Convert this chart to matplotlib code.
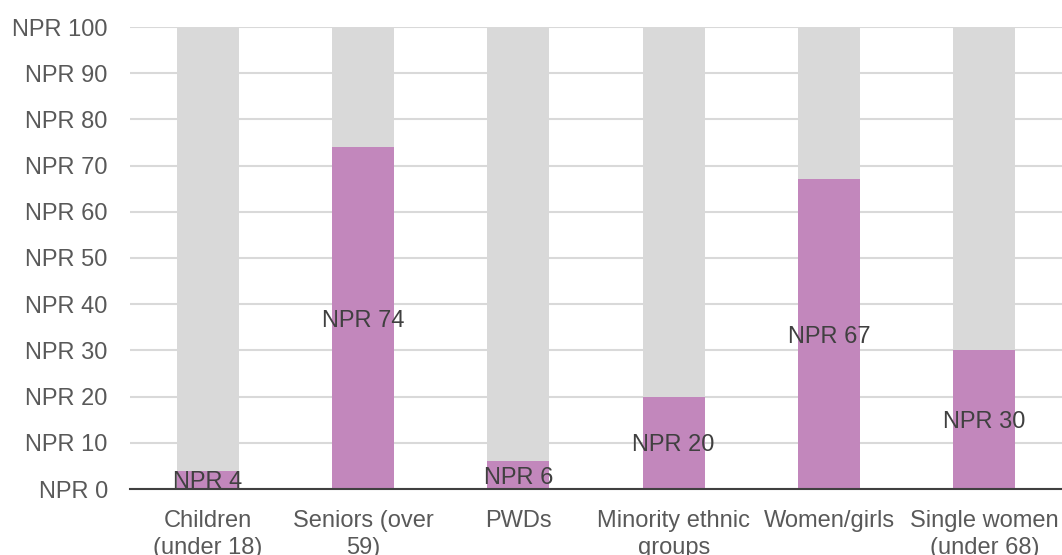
import numpy as np
import matplotlib.pyplot as plt

# Data
categories = ["Children\n(under 18)", "Seniors (over\n59)", "PWDs",
              "Minority ethnic\ngroups", "Women/girls", "Single women\n(under 68)"]
values = [4, 74, 6, 20, 67, 30]
total = 100
yticks = list(range(0, 101, 10))

plt.rcParams['font.family'] = ['Liberation Sans', 'DejaVu Sans']

fig = plt.figure(figsize=(10.62, 5.55), dpi=100)
ax = fig.add_axes([130 / 1062, 66 / 555, 932 / 1062, 462 / 555])

x = np.arange(len(categories))
rest = [total - v for v in values]

ax.bar(x, values, width=0.4, color="#c287bc", zorder=2)
ax.bar(x, rest, bottom=values, width=0.4, color="#d9d9d9", zorder=2)

# Etiquettes au centre des barres violettes
for xi, v in zip(x, values):
    ax.text(xi, v / 2, f"NPR {v}", ha='center', va='center_baseline',
            fontsize=17, color="#404040", zorder=3)

ax.set_xlim(-0.5, len(categories) - 0.5)
ax.set_ylim(0, 100)
ax.set_yticks(yticks)
ax.set_yticklabels([f"NPR {t}" for t in yticks])
ax.set_xticks(x)
ax.set_xticklabels(categories, linespacing=1.3)

ax.tick_params(axis='y', length=0, pad=16, labelsize=17, labelcolor="#595959")
ax.tick_params(axis='x', length=0, pad=15, labelsize=17, labelcolor="#595959")

ax.grid(axis='y', color="#d9d9d9", linewidth=1.5, zorder=0)
ax.set_axisbelow(True)
for s in ['top', 'right', 'left']:
    ax.spines[s].set_visible(False)
ax.spines['bottom'].set_color("#404040")
ax.spines['bottom'].set_linewidth(1.5)
ax.spines['bottom'].set_zorder(4)

fig.savefig("out.png", dpi=100)
